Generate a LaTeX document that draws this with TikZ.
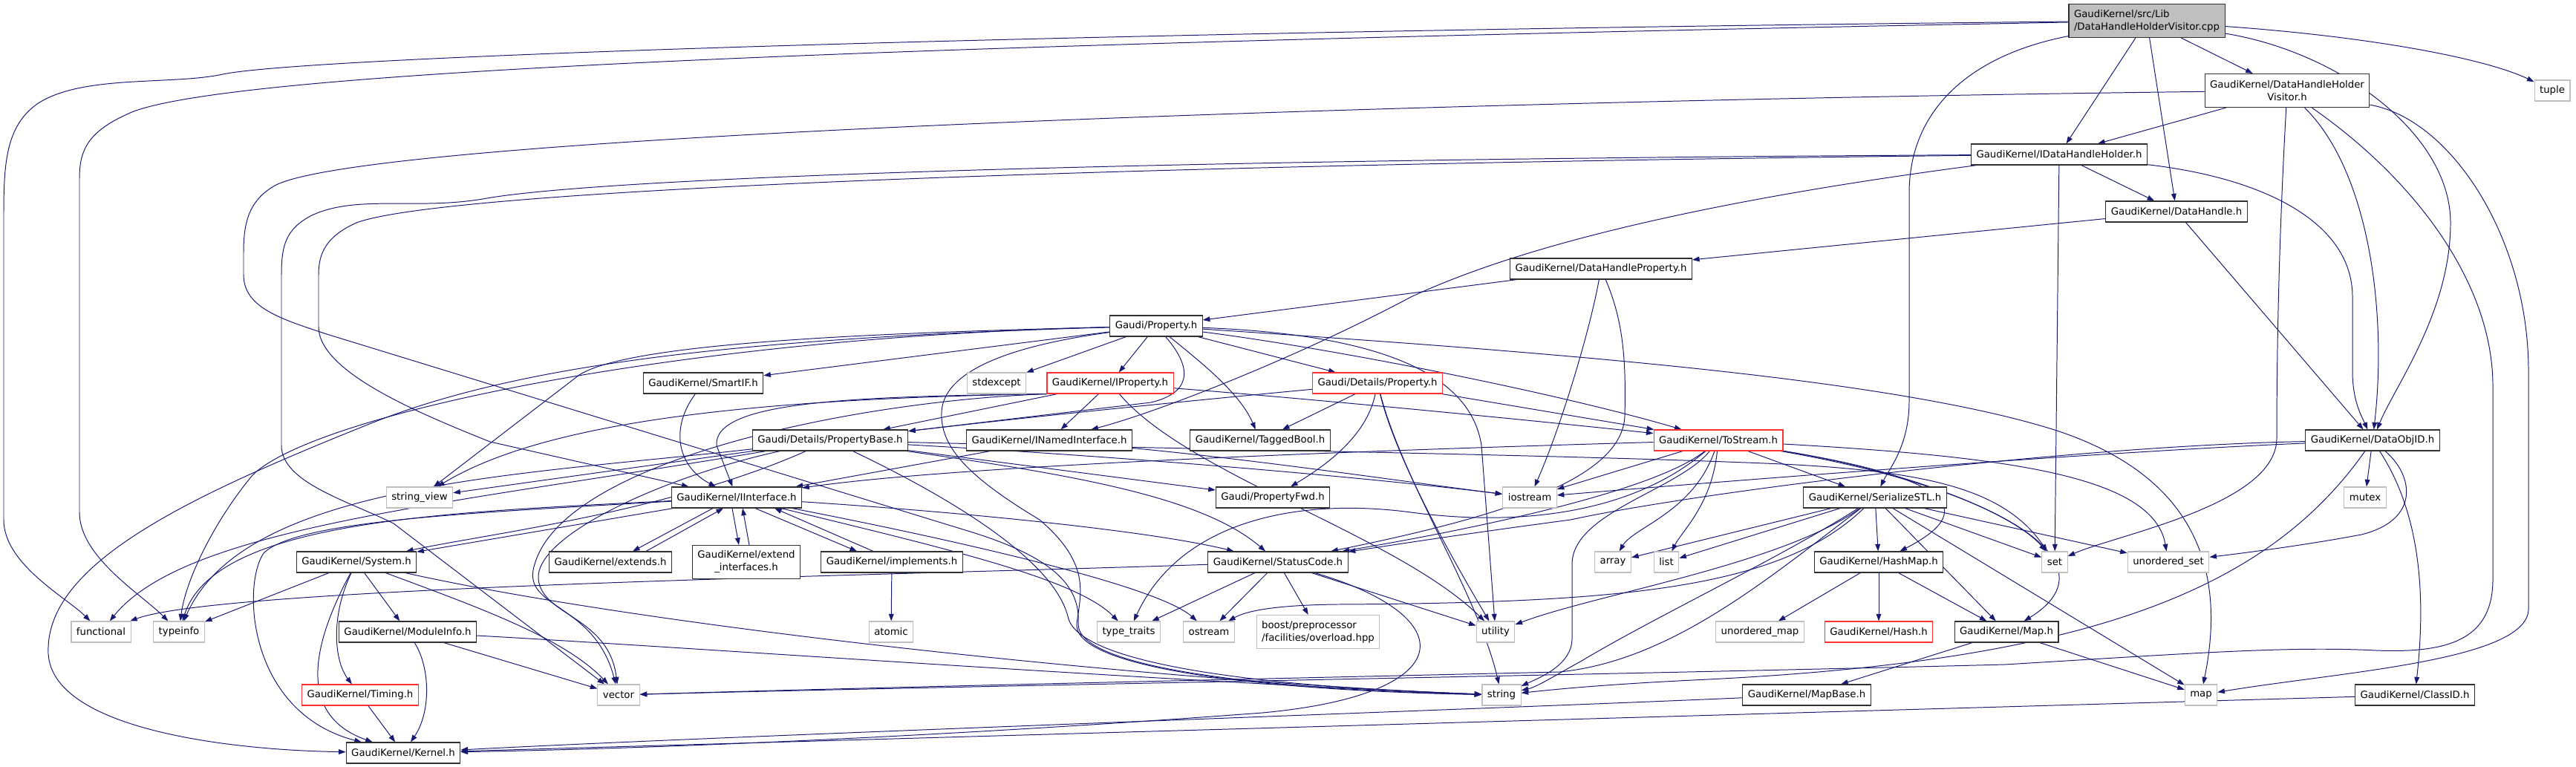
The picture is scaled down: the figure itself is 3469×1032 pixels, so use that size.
\documentclass[tikz,border=0pt]{standalone}
\usepackage{fontspec}
\setmainfont{DejaVu Sans}
\usetikzlibrary{arrows.meta,calc}
\pgfdeclarelayer{edgelayer}
\pgfsetlayers{edgelayer,main}
\definecolor{eblue}{HTML}{191970}
\definecolor{gborder}{HTML}{BFBFBF}
\definecolor{rborder}{HTML}{FF3030}
\definecolor{nborder}{HTML}{303030}
\definecolor{rootfill}{HTML}{BFBFBF}
\newcommand\ndfont{\fontsize{9.45}{12.1}\selectfont}
\tikzset{
 nd/.style={draw=nborder, fill=white, line width=0.8pt, inner xsep=0.175cm, inner ysep=0pt, minimum height=0.7cm, font=\ndfont},
 sysnd/.style={nd, draw=gborder},
 trnd/.style={nd, draw=rborder},
 two/.style={minimum height=1.125cm, align=center},
 twol/.style={minimum height=1.125cm, align=left},
 dep/.style={draw=eblue, line width=0.7pt, -{Triangle[length=0.24cm,width=0.17cm]}},
}
\begin{document}
\begin{tikzpicture}[x=0.025cm, y=-0.025cm]
\useasboundingbox (0,0) rectangle (3469,1032);
% nodes
\node[nd, twol, fill=rootfill] (root) at (2891,28) {GaudiKernel/src/Lib\\/DataHandleHolderVisitor.cpp};
\node[nd, two] (dhhv) at (3080,122) {GaudiKernel/DataHandleHolder\\Visitor.h};
\node[sysnd] (tuple) at (3437,122) {tuple};
\node[nd] (idhh) at (2773,208) {GaudiKernel/IDataHandleHolder.h};
\node[nd] (dh) at (2931,285) {GaudiKernel/DataHandle.h};
\node[nd] (dhp) at (2156,362) {GaudiKernel/DataHandleProperty.h};
\node[nd] (prop) at (1557,439) {Gaudi/Property.h};
\node[nd] (smartif) at (947,516) {GaudiKernel/SmartIF.h};
\node[sysnd] (stdexcept) at (1342,516) {stdexcept};
\node[trnd] (iprop) at (1495,516) {GaudiKernel/IProperty.h};
\node[trnd] (dprop) at (1855,516) {Gaudi/Details/Property.h};
\node[nd] (pbase) at (1118,593) {Gaudi/Details/PropertyBase.h};
\node[nd] (inamed) at (1413,593) {GaudiKernel/INamedInterface.h};
\node[nd] (tagged) at (1697,593) {GaudiKernel/TaggedBool.h};
\node[trnd] (tostream) at (2314,593) {GaudiKernel/ToStream.h};
\node[nd] (dataobjid) at (3195,593) {GaudiKernel/DataObjID.h};
\node[sysnd] (stringview) at (565,670) {string\_view};
\node[nd] (iinterface) at (992,670) {GaudiKernel/IInterface.h};
\node[nd] (pfwd) at (1714,670) {Gaudi/PropertyFwd.h};
\node[sysnd] (iostream) at (2060,670) {iostream};
\node[nd] (serial) at (2525,670) {GaudiKernel/SerializeSTL.h};
\node[sysnd] (mutex) at (3185,670) {mutex};
\node[nd] (system) at (480,757) {GaudiKernel/System.h};
\node[nd] (extends) at (822,757) {GaudiKernel/extends.h};
\node[nd, two] (extif) at (1005,757) {GaudiKernel/extend\\\_interfaces.h};
\node[nd] (implements) at (1201,757) {GaudiKernel/implements.h};
\node[nd] (status) at (1721,757) {GaudiKernel/StatusCode.h};
\node[sysnd] (array) at (2172,757) {array};
\node[sysnd] (list) at (2244,757) {list};
\node[nd] (hashmap) at (2530,757) {GaudiKernel/HashMap.h};
\node[sysnd] (set) at (2767,757) {set};
\node[sysnd] (uset) at (2920,757) {unordered\_set};
\node[sysnd] (functional) at (136,851) {functional};
\node[sysnd] (typeinfo) at (241,851) {typeinfo};
\node[nd] (modinfo) at (549,851) {GaudiKernel/ModuleInfo.h};
\node[sysnd] (atomic) at (1200,851) {atomic};
\node[sysnd] (typetraits) at (1520,851) {type\_traits};
\node[sysnd] (ostream) at (1628,851) {ostream};
\node[sysnd, twol] (boost) at (1775,851) {boost/preprocessor\\/facilities/overload.hpp};
\node[sysnd] (utility) at (2014,851) {utility};
\node[sysnd] (umap) at (2370,851) {unordered\_map};
\node[trnd] (hash) at (2530,851) {GaudiKernel/Hash.h};
\node[nd] (map) at (2702,851) {GaudiKernel/Map.h};
\node[trnd] (timing) at (485,936) {GaudiKernel/Timing.h};
\node[sysnd] (vector) at (833,936) {vector};
\node[sysnd] (string) at (2022,936) {string};
\node[nd] (mapbase) at (2433,936) {GaudiKernel/MapBase.h};
\node[sysnd] (stdmap) at (2964,936) {map};
\node[nd] (classid) at (3252,936) {GaudiKernel/ClassID.h};
\node[nd] (kernel) at (543,1014) {GaudiKernel/Kernel.h};
\begin{pgfonlayer}{edgelayer}
% root
\draw[dep] (root) .. controls (1500,42) and (420,75) .. (300,100) .. controls (230,115) and (110,100) .. (50,140) .. controls (8,170) and (5,220) .. (5,290) -- (5,700) .. controls (5,760) and (90,805) .. (functional);
\draw[dep] (root) .. controls (1200,60) and (330,95) .. (180,150) .. controls (120,175) and (107,200) .. (107,240) -- (107,690) .. controls (107,750) and (190,800) .. (typeinfo);
\draw[dep] (root) .. controls (2650,75) and (2571,150) .. (2571,260) -- (2571,540) .. controls (2571,600) and (2545,630) .. (serial);
\draw[dep] (root) .. controls (3150,70) and (3300,180) .. (3300,300) .. controls (3300,420) and (3225,520) .. (dataobjid);
\draw[dep] (root) .. controls (3200,50) and (3350,80) .. (tuple);
\draw[dep] (root) -- (dhhv);
\draw[dep] (root) -- (idhh);
\draw[dep] (root) -- (dh);
% dhhv
\draw[dep] (dhhv) -- (idhh);
\draw[dep] (dhhv) .. controls (3190,230) and (3215,420) .. (dataobjid);
\draw[dep] (dhhv) .. controls (3070,300) and (3066,450) .. (3066,590) .. controls (3066,680) and (2850,720) .. (set);
\draw[dep] (dhhv) .. controls (3300,160) and (3405,320) .. (3405,500) -- (3405,820) .. controls (3405,890) and (3150,905) .. (stdmap);
\draw[dep] (dhhv) .. controls (3250,240) and (3357,380) .. (3357,520) -- (3357,780) .. controls (3357,860) and (3300,880) .. (3200,876) .. controls (3080,870) and (2950,880) .. (2700,895) .. controls (2200,908) and (1200,926) .. (vector);
\draw[dep] (dhhv) .. controls (2000,135) and (500,180) .. (370,250) .. controls (335,270) and (328,300) .. (328,340) -- (328,370) .. controls (328,415) and (380,430) .. (440,450) -- (1300,714) .. controls (1420,750) and (1455,790) .. (1452,840) .. controls (1450,900) and (1700,928) .. (string);
% idhh
\draw[dep] (idhh) -- (dh);
\draw[dep] (idhh) .. controls (3050,240) and (3168,300) .. (3168,400) -- (3168,500) .. controls (3168,540) and (3180,560) .. (dataobjid);
\draw[dep] (idhh) -- (set);
\draw[dep] (idhh) .. controls (2300,270) and (2050,330) .. (1900,400) .. controls (1750,480) and (1560,555) .. (inamed);
\draw[dep] (idhh) .. controls (1500,222) and (600,255) .. (480,300) .. controls (440,318) and (429,340) .. (429,370) -- (429,440) .. controls (429,500) and (560,555) .. (660,595) -- (iinterface);
\draw[dep] (idhh) .. controls (1500,215) and (800,240) .. (650,268) .. controls (560,283) and (480,262) .. (420,290) .. controls (385,308) and (379,330) .. (379,370) -- (379,600) .. controls (379,650) and (470,675) .. (530,705) -- (vector);
% dh, dhp
\draw[dep] (dh) -- (dhp);
\draw[dep] (dh) -- (dataobjid);
\draw[dep] (dhp) -- (prop);
\draw[dep] (dhp) .. controls (2140,450) and (2100,580) .. (iostream);
\draw[dep] (dhp) .. controls (2185,430) and (2190,480) .. (2188,560) .. controls (2185,650) and (2000,700) .. (status);
% prop
\draw[dep] (prop) -- (smartif);
\draw[dep] (prop) -- (stdexcept);
\draw[dep] (prop) -- (iprop);
\draw[dep] (prop) -- (dprop);
\draw[dep] (prop) .. controls (1620,490) and (1670,530) .. (tagged);
\draw[dep] (prop) .. controls (1800,470) and (2100,530) .. (tostream);
\draw[dep] (prop) .. controls (1610,500) and (1600,530) .. (1550,542) -- (pbase);
\draw[dep] (prop) .. controls (1200,448) and (850,460) .. (780,505) -- (stringview);
\draw[dep] (prop) .. controls (900,455) and (420,560) .. (340,640) .. controls (290,700) and (250,780) .. (typeinfo);
\draw[dep] (prop) .. controls (1000,455) and (700,490) .. (500,570) .. controls (250,670) and (60,760) .. (65,880) .. controls (70,980) and (300,1010) .. (kernel);
\draw[dep] (prop) .. controls (1850,450) and (1980,500) .. (1995,600) -- (utility);
\draw[dep] (prop) .. controls (1330,470) and (1270,510) .. (1268,555) .. controls (1266,600) and (1300,640) .. (1400,700) .. controls (1470,760) and (1455,800) .. (1450,840) .. controls (1445,900) and (1700,930) .. (string);
\draw[dep] (prop) .. controls (2100,475) and (2550,510) .. (2770,580) .. controls (2950,640) and (3000,760) .. (stdmap);
% iprop
\draw[dep] (iprop) -- (pbase);
\draw[dep] (iprop) -- (inamed);
\draw[dep] (iprop) .. controls (1800,540) and (2100,570) .. (tostream);
\draw[dep] (iprop.south west) .. controls (1150,534) and (960,540) .. (965,600) -- (iinterface);
\draw[dep] (iprop.south west) .. controls (1000,537) and (730,570) .. (stringview);
\draw[dep] (iprop) .. controls (1600,640) and (1880,720) .. (utility);
\draw[dep] (iprop.south west) .. controls (1150,540) and (760,620) .. (720,760) .. controls (700,820) and (800,810) .. (vector);
% dprop
\draw[dep] (dprop) .. controls (1600,540) and (1400,560) .. (pbase);
\draw[dep] (dprop) -- (tagged);
\draw[dep] (dprop) .. controls (1840,590) and (1780,630) .. (pfwd);
\draw[dep] (dprop) -- (tostream);
\draw[dep] (dprop) .. controls (1880,620) and (1960,760) .. (utility);
\draw[dep] (dprop) .. controls (1890,650) and (1990,800) .. (string);
% pbase
\draw[dep] (pbase) -- (stringview);
\draw[dep] (pbase) -- (pfwd);
\draw[dep] (pbase) .. controls (1600,620) and (1900,650) .. (iostream);
\draw[dep] (pbase) .. controls (1450,640) and (1620,670) .. (status);
\draw[dep] (pbase) .. controls (900,690) and (650,720) .. (system);
\draw[dep] (pbase) .. controls (700,640) and (330,650) .. (typeinfo);
\draw[dep] (pbase) .. controls (600,680) and (250,710) .. (functional);
\draw[dep] (pbase) .. controls (1300,680) and (1420,760) .. (1438,830) .. controls (1450,895) and (1700,925) .. (string);
\draw[dep] (pbase) .. controls (1600,605) and (2100,612) .. (2400,625) .. controls (2600,635) and (2700,660) .. (set);
\draw[dep] (pbase) .. controls (900,640) and (720,720) .. (725,780) .. controls (730,830) and (820,830) .. (vector);
% inamed, smartif
\draw[dep] (inamed) -- (iinterface);
\draw[dep] (inamed) .. controls (1700,620) and (1900,650) .. (iostream);
\draw[dep] (smartif) .. controls (900,580) and (915,630) .. (iinterface);
% iinterface
\draw[dep] ($(iinterface.south)+(-32,0)$) -- ($(extends.north)+(30,0)$);
\draw[dep] ($(extends.north)+(48,0)$) -- ($(iinterface.south)+(-18,0)$);
\draw[dep] ($(iinterface.south)+(-6,0)$) -- ($(extif.north)+(-10,0)$);
\draw[dep] ($(extif.north)+(4,0)$) -- ($(iinterface.south)+(8,0)$);
\draw[dep] ($(iinterface.south)+(25,0)$) -- ($(implements.north)+(-47,0)$);
\draw[dep] ($(implements.north)+(-25,0)$) -- ($(iinterface.south)+(51,0)$);
\draw[dep] (iinterface) -- (system);
\draw[dep] (iinterface) .. controls (650,690) and (400,700) .. (355,745) .. controls (325,790) and (335,960) .. (kernel);
\draw[dep] (iinterface) .. controls (600,690) and (290,700) .. (typeinfo);
\draw[dep] (iinterface) .. controls (1300,690) and (1550,715) .. (status);
\draw[dep] (iinterface) .. controls (1300,730) and (1560,790) .. (ostream);
\draw[dep] (iinterface) .. controls (1280,740) and (1450,780) .. (typetraits);
\draw[dep] (implements) -- (atomic);
% system, modinfo, timing
\draw[dep] (system) -- (typeinfo);
\draw[dep] (system) .. controls (430,850) and (390,960) .. (kernel);
\draw[dep] (system) .. controls (445,830) and (450,890) .. (timing);
\draw[dep] (system) -- (modinfo);
\draw[dep] (system) .. controls (650,820) and (760,860) .. (vector);
\draw[dep] (system) .. controls (900,850) and (1600,920) .. (string);
\draw[dep] (modinfo) .. controls (580,900) and (580,960) .. (kernel);
\draw[dep] (modinfo) -- (vector);
\draw[dep] (modinfo) .. controls (900,870) and (1600,920) .. (string);
\draw[dep] (timing) -- (kernel);
% status
\draw[dep] (status) .. controls (1200,775) and (300,790) .. (functional);
\draw[dep] (status) .. controls (1970,830) and (1970,935) .. (1700,960) .. controls (1300,990) and (900,1008) .. (kernel);
\draw[dep] (status) -- (typetraits);
\draw[dep] (status) -- (ostream);
\draw[dep] (status) -- (boost);
\draw[dep] (status) -- (utility);
% tostream
\draw[dep] (tostream) .. controls (1900,605) and (1300,625) .. (iinterface);
\draw[dep] (tostream) -- (iostream);
\draw[dep] (tostream) .. controls (2230,660) and (2000,710) .. (status);
\draw[dep] (tostream) .. controls (2200,690) and (2050,710) .. (1900,690) .. controls (1750,670) and (1590,700) .. (typetraits);
\draw[dep] (tostream) .. controls (2280,690) and (2200,710) .. (array);
\draw[dep] (tostream) .. controls (2305,680) and (2265,715) .. (list);
\draw[dep] (tostream) .. controls (2260,660) and (2117,690) .. (2117,760) -- (2117,860) .. controls (2117,895) and (2075,912) .. (string);
\draw[dep] (tostream) -- (serial);
\draw[dep] (tostream) .. controls (2600,640) and (2680,680) .. (hashmap);
\draw[dep] (tostream) .. controls (2600,640) and (2720,700) .. (set);
\draw[dep] (tostream) .. controls (2700,615) and (2900,640) .. (uset);
\draw[dep] (tostream) .. controls (2700,660) and (2850,760) .. (map);
% serial
\draw[dep] (serial) -- (array);
\draw[dep] (serial) -- (list);
\draw[dep] (serial) -- (hashmap);
\draw[dep] (serial) -- (map);
\draw[dep] (serial) -- (stdmap);
\draw[dep] (serial) -- (set);
\draw[dep] (serial) -- (uset);
\draw[dep] (serial) .. controls (2400,790) and (2200,812) .. (1800,814) .. controls (1720,815) and (1680,822) .. (ostream);
\draw[dep] (serial) .. controls (2400,760) and (2150,800) .. (utility);
\draw[dep] (serial) .. controls (2380,780) and (2250,890) .. (2100,905) .. controls (1800,912) and (1200,925) .. (vector);
\draw[dep] (serial) .. controls (2400,750) and (2230,830) .. (2130,890) .. controls (2090,912) and (2070,925) .. (string);
% hashmap, map
\draw[dep] (hashmap) -- (umap);
\draw[dep] (hashmap) -- (hash);
\draw[dep] (hashmap) -- (map);
\draw[dep] (map) -- (mapbase);
\draw[dep] (map) -- (stdmap);
\draw[dep] (mapbase) .. controls (2000,955) and (1000,990) .. (kernel);
\draw[dep] (classid) -- (kernel);
% dataobjid
\draw[dep] (dataobjid) .. controls (2800,610) and (2300,650) .. (iostream);
\draw[dep] (dataobjid) .. controls (2800,600) and (2300,660) .. (2115,700) .. controls (1950,722) and (1870,735) .. (status);
\draw[dep] (dataobjid) -- (mutex);
\draw[dep] (dataobjid) .. controls (3250,640) and (3260,700) .. (3180,720) .. controls (3100,735) and (3020,745) .. (uset);
\draw[dep] (dataobjid) .. controls (3050,800) and (2800,890) .. (2300,915) .. controls (2150,922) and (2080,930) .. (string);
\draw[dep] (dataobjid) .. controls (3265,700) and (3265,820) .. (classid);
\end{pgfonlayer}
\end{tikzpicture}
\end{document}
